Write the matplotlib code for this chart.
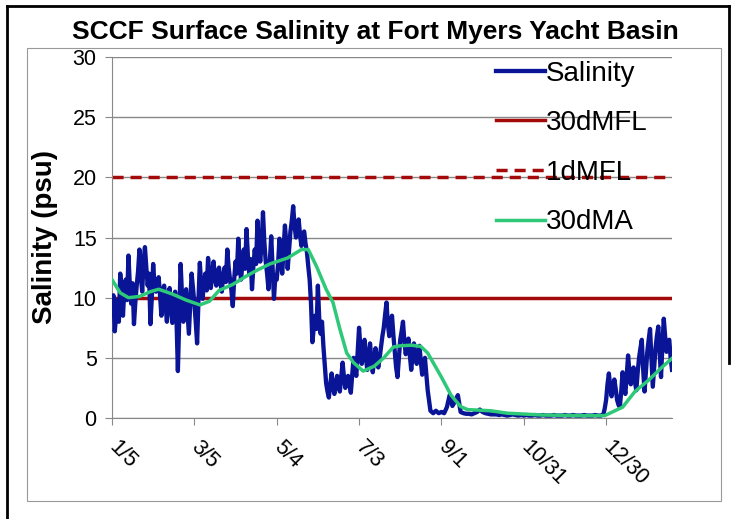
#SCCF surface salinity chart, Fort Myers Yacht Basin
import numpy as np
import matplotlib.pyplot as plt
from matplotlib.lines import Line2D
from matplotlib.patches import Rectangle

plt.rcParams['font.family'] = ['Liberation Sans', 'DejaVu Sans']

#Salinity readings: daily to 8/23, every 2 days through the low period, daily again from 12/28
sal_days = np.concatenate([np.arange(0, 230), np.arange(230, 358, 2), np.arange(358, 409)])
salinity = [
    9.0, 10.2, 7.2, 8.5, 9.8, 8.0, 12.0, 10.5, 8.5, 10.8,
    11.5, 9.8, 13.5, 11.0, 9.5, 11.2, 7.8, 9.6, 11.0, 12.2,
    14.0, 11.8, 10.5, 13.0, 14.2, 12.5, 11.0, 12.0, 7.8, 10.0,
    12.8, 11.0, 10.5, 11.2, 11.7, 10.2, 8.5, 10.6, 11.0, 9.5,
    8.0, 10.2, 10.8, 9.0, 7.9, 9.5, 10.5, 8.2, 3.9, 8.5,
    12.8, 10.2, 8.0, 9.4, 10.7, 8.8, 7.0, 9.6, 12.0, 10.8,
    9.5, 8.0, 6.2, 9.8, 12.9, 11.0, 9.9, 11.2, 12.0, 10.6,
    13.3, 11.9, 10.8, 12.0, 13.0, 11.6, 11.0, 12.2, 12.5, 11.2,
    10.5, 11.8, 12.5, 11.3, 14.0, 12.5, 11.5, 10.6, 9.3, 11.5,
    13.0, 12.0, 14.9, 12.8, 11.5, 12.8, 14.0, 12.4, 15.7, 13.5,
    12.0, 13.2, 10.7, 12.6, 14.0, 12.8, 16.4, 14.2, 13.0, 14.5,
    17.1, 14.6, 13.0, 12.0, 10.7, 13.0, 15.1, 12.6, 9.9, 11.8,
    11.5, 12.8, 14.9, 13.2, 12.0, 14.0, 16.0, 14.5, 12.4, 14.0,
    15.5, 16.4, 17.6, 16.0, 15.0, 15.8, 16.5, 15.2, 14.3, 15.2,
    15.5, 14.5, 13.8, 12.6, 11.5, 9.5, 6.3, 7.5, 8.5, 7.4,
    11.0, 8.2, 7.0, 8.0, 6.0, 4.5, 2.9, 2.2, 1.7, 2.8,
    3.7, 2.6, 2.0, 2.9, 3.5, 2.6, 2.2, 3.4, 4.6, 3.4,
    2.5, 3.2, 3.5, 2.8, 2.1, 3.6, 5.0, 4.0, 3.5, 5.5,
    7.5, 5.8, 4.5, 5.6, 6.5, 5.0, 4.0, 5.2, 6.2, 4.8,
    3.8, 4.9, 5.8, 4.8, 4.2, 5.0, 5.9, 6.8, 7.5, 8.6,
    9.6, 7.8, 6.8, 7.6, 8.5, 6.9, 5.5, 4.2, 3.4, 5.0,
    6.5, 7.2, 8.0, 6.4, 5.3, 6.0, 6.6, 5.2, 4.0, 5.2,
    6.2, 5.2, 4.5, 5.3, 6.0, 4.7, 3.6, 4.4, 5.0, 3.6,
    #every 2 days
    2.3, 0.6, 0.4, 0.6, 0.4, 0.5, 0.4, 0.9, 1.9, 1.0,
    1.4, 1.9, 0.5, 0.4, 0.35, 0.35, 0.3, 0.4, 0.5, 0.7,
    0.5, 0.4, 0.35, 0.3, 0.3,
    0.3, 0.25, 0.3, 0.25, 0.2, 0.25, 0.3, 0.25, 0.2, 0.25,
    0.2, 0.25, 0.2, 0.2, 0.25, 0.2, 0.2, 0.25, 0.2, 0.2,
    0.2, 0.25, 0.2, 0.2, 0.2, 0.25, 0.2, 0.2, 0.25, 0.2,
    0.2, 0.2, 0.25, 0.2, 0.2, 0.2, 0.25, 0.2, 0.2,
    #daily again
    0.3, 0.8, 1.5, 2.8, 3.7, 2.6, 1.8, 2.6, 3.2, 2.4,
    1.5, 1.1, 0.9, 2.2, 3.8, 2.8, 2.0, 3.5, 5.2, 3.8,
    2.8, 3.6, 4.2, 3.0, 2.3, 3.8, 5.0, 5.8, 6.5, 4.0,
    2.2, 3.8, 5.5, 6.5, 7.4, 5.0, 2.6, 4.2, 5.8, 6.8,
    7.6, 5.5, 3.4, 6.0, 8.25, 6.8, 5.5, 6.2, 6.5, 5.0,
    4.0,
]

#30 day moving average
ma_days = [0, 6, 12, 20, 28, 34, 44, 54, 64, 71, 78, 88, 98, 106, 115, 128,
           138, 143, 149, 156, 161, 166, 171, 176, 183, 191, 198, 205, 210,
           218, 225, 230, 240, 247, 254, 259, 276, 288, 313, 340, 359, 372,
           381, 391, 401, 408]
ma_vals = [11.5, 10.4, 10.0, 10.1, 10.5, 10.7, 10.3, 9.8, 9.4, 9.7, 10.6, 11.1,
           11.8, 12.3, 12.8, 13.3, 14.0, 14.0, 12.6, 10.7, 9.6, 7.4, 5.4, 4.6,
           3.9, 4.3, 5.0, 5.9, 6.0, 6.05, 5.95, 5.4, 3.4, 1.9, 0.95, 0.7, 0.6,
           0.4, 0.25, 0.2, 0.2, 0.9, 2.2, 3.15, 4.25, 4.95]

mfl_30d = 10
mfl_1d = 20

tick_days = [0, 60, 120, 180, 240, 300, 360]
tick_labels = ['1/5', '3/5', '5/4', '7/3', '9/1', '10/31', '12/30']

NAVY = '#0A1496'
DKRED = '#A50A0A'
GREEN = '#2DC878'

fig = plt.figure(figsize=(7.32, 5.19), dpi=100)
#outer frames
fig.add_artist(Line2D([7/732, 7/732], [0, 1-6/519], color='black', lw=2))
fig.add_artist(Line2D([7/732, 729/732], [1-6/519, 1-6/519], color='black', lw=2))
fig.add_artist(Line2D([729/732, 729/732], [0.3, 1-6/519], color='black', lw=2))
fig.add_artist(Rectangle((27/732, 1-501/519), (721-27)/732, (501-48)/519,
                         fill=False, ec='#999999', lw=0.8, transform=fig.transFigure))

ax = fig.add_axes([112/732, 1-418/519, 560/732, 361/519])
ax.plot(sal_days, salinity, color=NAVY, lw=3.1, label='Salinity', zorder=3)
ax.axhline(mfl_30d, color=DKRED, lw=2.5, label='30dMFL', zorder=2)
ax.axhline(mfl_1d, color=DKRED, lw=2.5, ls=(0, (3.2, 2)), label='1dMFL', zorder=2)
ax.plot(ma_days, ma_vals, color=GREEN, lw=2.5, label='30dMA', zorder=4)

ax.set_xlim(0, 408)
ax.set_ylim(0, 30)
ax.set_yticks(range(0, 31, 5))
ax.yaxis.grid(True, color='#888888', lw=1)
ax.set_axisbelow(True)
for s in ['top', 'right']:
    ax.spines[s].set_visible(False)
for s in ['left', 'bottom']:
    ax.spines[s].set_color('#888888')
ax.tick_params(axis='both', colors='#888888', labelcolor='black', labelsize=15.5, length=5)
ax.tick_params(axis='y', pad=6)
ax.set_xticks(tick_days)
ax.set_xticklabels(tick_labels, rotation=-45, ha='left', va='center', rotation_mode='anchor')
ax.tick_params(axis='x', pad=14)
ax.set_ylabel('Salinity (psu)', fontsize=20, fontweight='bold')
ax.yaxis.set_label_coords(-0.097, 0.5)

fig.suptitle('SCCF Surface Salinity at Fort Myers Yacht Basin', x=0.513, y=1-20/519,
             va='top', fontsize=19, fontweight='bold')

ax.legend(loc='upper left', bbox_to_anchor=(0.686, 0.99), frameon=False, fontsize=20,
          handlelength=1.75, handletextpad=0.05, labelspacing=0.85, borderaxespad=0,
          borderpad=0)

fig.savefig('out.png', dpi=100)
